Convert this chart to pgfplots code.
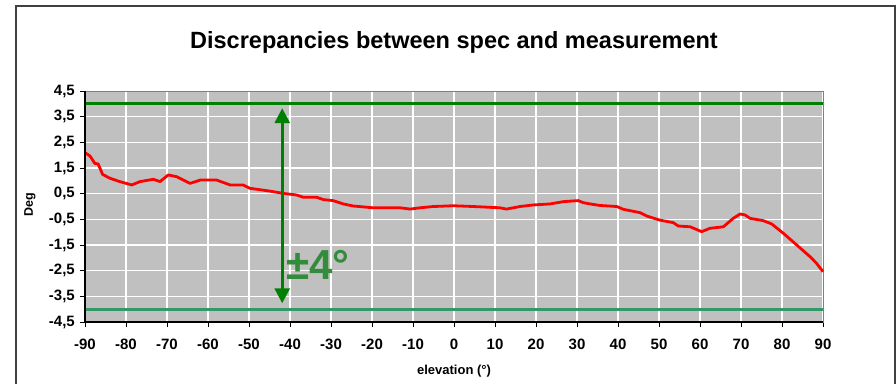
\documentclass[border=0pt]{standalone}
\usepackage{pgfplots}
\pgfplotsset{compat=1.18}
\usepackage{fontspec}
\setmainfont{Liberation Sans}
\usetikzlibrary{arrows.meta}
\definecolor{plotbg}{RGB}{192,192,192}
\definecolor{dkgreen}{RGB}{0,128,0}
\definecolor{seagreen}{RGB}{51,153,102}
\definecolor{txtgreen}{RGB}{51,140,60}
\begin{document}
\begin{tikzpicture}[x=1pt,y=1pt]
\path[use as bounding box] (0,0) rectangle (896,384);
\draw[black!75, line width=1.2pt] (16,0) -- (16,378) -- (895,378) -- (895,0);
\begin{axis}[
  at={(85pt,62pt)}, anchor=south west,
  scale only axis, width=738pt, height=231pt,
  xmin=-90, xmax=90, ymin=-4.5, ymax=4.5,
  axis background/.style={fill=plotbg},
  axis line style={draw=gray, line width=1pt},
  xtick={-90,-80,...,90},
  xticklabels={-90,-80,-70,-60,-50,-40,-30,-20,-10,0,10,20,30,40,50,60,70,80,90},
  ytick={-4.5,-3.5,-2.5,-1.5,-0.5,0.5,1.5,2.5,3.5,4.5},
  yticklabels={{-4,5},{-3,5},{-2,5},{-1,5},{-0,5},{0,5},{1,5},{2,5},{3,5},{4,5}},
  tick pos=left, tick align=outside,
  major tick length=5pt,
  tick style={black, line width=1pt},
  grid=major,
  major grid style={white, line width=1.5pt},
  tick label style={font=\bfseries\fontsize{15}{15}\selectfont, inner sep=0pt},
  xticklabel style={anchor=north, yshift=-12pt},
  yticklabel style={anchor=east, xshift=-5pt},
  clip=false,
]
\addplot[dkgreen, line width=3.2pt] coordinates {(-90,4) (90,4)};
\addplot[seagreen, line width=3pt] coordinates {(-90,-4) (90,-4)};
\addplot[red, line width=2.8pt, line join=round] coordinates {
(-90,2.10) (-88.8,1.97) (-87.6,1.68) (-86.8,1.66) (-85.7,1.25) (-83.9,1.10)
(-81.5,0.97) (-78.6,0.84) (-76.6,0.97) (-73.3,1.06) (-71.7,0.97) (-69.7,1.23)
(-67.6,1.16) (-64.4,0.90) (-61.9,1.03) (-57.9,1.03) (-54.6,0.84) (-51.4,0.84)
(-49.8,0.71) (-44.9,0.60) (-41.6,0.51) (-38.4,0.45) (-36.8,0.36) (-33.5,0.36)
(-31.9,0.27) (-29.5,0.23) (-27.0,0.10) (-24.6,0.02) (-19.7,-0.05) (-13.2,-0.05)
(-10.7,-0.10) (-8.3,-0.05) (-5.0,0.0) (-0.2,0.03) (4.7,0.0) (11.2,-0.05)
(12.8,-0.10) (16.1,0.0) (19.3,0.06) (23.4,0.10) (26.7,0.19) (30.3,0.23)
(31.5,0.15) (33.2,0.10) (35.6,0.04) (39.7,0.0) (41.3,-0.11) (45.4,-0.24)
(47.0,-0.37) (50.2,-0.53) (53.5,-0.63) (54.7,-0.76) (57.6,-0.79) (60.4,-0.98)
(62.4,-0.85) (65.7,-0.79) (68.1,-0.46) (69.8,-0.29) (71.0,-0.33) (72.2,-0.46)
(75.4,-0.55) (77.5,-0.68) (80.3,-1.04) (83.6,-1.50) (86.8,-1.95) (88.4,-2.21)
(90,-2.54)};
\addplot[dkgreen, line width=3pt, {Triangle[width=15pt,length=15pt]}-{Triangle[width=15pt,length=15pt]}]
  coordinates {(-41.9,-3.77) (-41.9,3.83)};
\draw[black, line width=1.3pt] (rel axis cs:0,1) -- (rel axis cs:0,0) -- (rel axis cs:1,0);
\node[anchor=base west, inner sep=0pt, text=txtgreen, font=\bfseries\fontsize{42}{42}\selectfont]
  at (axis cs:-40.9,-2.86) {±4°};
\end{axis}
\node[font=\bfseries\fontsize{23.5}{23.5}\selectfont, anchor=base] at (454,336) {Discrepancies between spec and measurement};
\node[font=\bfseries\fontsize{13}{13}\selectfont, anchor=base] at (454,10) {elevation (°)};
\node[font=\bfseries\fontsize{12.5}{12.5}\selectfont, rotate=90] at (30,179) {Deg};
\end{tikzpicture}
\end{document}
